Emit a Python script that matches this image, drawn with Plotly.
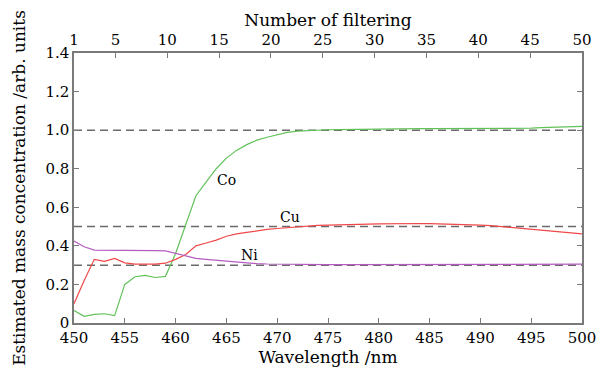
import plotly.graph_objects as go

wavelength = list(range(450, 501))

co = [0.065, 0.035, 0.045, 0.048, 0.038, 0.20, 0.24, 0.247, 0.236, 0.242,
      0.36, 0.51, 0.66, 0.73, 0.80, 0.855, 0.895, 0.925, 0.948, 0.963,
      0.977, 0.988, 0.995, 0.998, 1.0, 1.002, 1.003, 1.004, 1.005, 1.006,
      1.007, 1.007, 1.008, 1.008, 1.008, 1.008, 1.008, 1.008, 1.008, 1.008,
      1.008, 1.008, 1.008, 1.009, 1.009, 1.01, 1.013, 1.015, 1.016, 1.018, 1.02]

cu = [0.10, 0.22, 0.33, 0.32, 0.335, 0.312, 0.305, 0.305, 0.305, 0.31,
      0.33, 0.355, 0.40, 0.415, 0.43, 0.45, 0.462, 0.47, 0.478, 0.485,
      0.49, 0.495, 0.499, 0.503, 0.506, 0.508, 0.51, 0.511, 0.512, 0.513,
      0.514, 0.515, 0.516, 0.516, 0.516, 0.515, 0.514, 0.512, 0.511, 0.51,
      0.508, 0.505, 0.50, 0.495, 0.49, 0.485, 0.481, 0.477, 0.472, 0.467, 0.462]

ni = [0.425, 0.395, 0.378, 0.378, 0.377, 0.376, 0.375, 0.375, 0.375, 0.374,
      0.36, 0.345, 0.335, 0.33, 0.325, 0.32, 0.316, 0.312, 0.308, 0.306,
      0.305, 0.304, 0.304, 0.304, 0.303, 0.303, 0.303, 0.303, 0.303, 0.303,
      0.303, 0.303, 0.303, 0.303, 0.303, 0.303, 0.303, 0.303, 0.303, 0.303,
      0.303, 0.303, 0.303, 0.303, 0.303, 0.304, 0.304, 0.304, 0.305, 0.305, 0.305]

reference_levels = [1.0, 0.5, 0.3]

series_labels = ["Co", "Cu", "Ni"]
label_x = [465.0, 471.3, 467.3]
label_y = [0.74, 0.55, 0.352]

x_ticks = list(range(450, 501, 5))
y_ticks = [0, 0.2, 0.4, 0.6, 0.8, 1.0, 1.2, 1.4]
y_ticklabels = ["0", "0.2", "0.4", "0.6", "0.8", "1.0", "1.2", "1.4"]
filter_ticks = [1, 5, 10, 15, 20, 25, 30, 35, 40, 45, 50]

FONT = "DejaVu Serif"
AXC = "#7a7a7a"

fig = go.Figure()

for lvl in reference_levels:
    fig.add_trace(go.Scatter(x=[450, 500], y=[lvl, lvl], mode="lines",
                             line=dict(color="#6a6a6a", width=1.5, dash="8px,5px"),
                             hoverinfo="skip", showlegend=False))

fig.add_trace(go.Scatter(x=wavelength, y=co, mode="lines",
                         line=dict(color="#62c25a", width=1.2), showlegend=False))
fig.add_trace(go.Scatter(x=wavelength, y=cu, mode="lines",
                         line=dict(color="#f04848", width=1.2), showlegend=False))
fig.add_trace(go.Scatter(x=wavelength, y=ni, mode="lines",
                         line=dict(color="#b45cc0", width=1.2), showlegend=False))

# invisible trace for top axis
fig.add_trace(go.Scatter(x=[1, 50], y=[0, 0], xaxis="x2", mode="markers",
                         marker=dict(opacity=0), hoverinfo="skip", showlegend=False))

for t, lx, ly in zip(series_labels, label_x, label_y):
    fig.add_annotation(x=lx, y=ly, text=t, showarrow=False,
                       font=dict(family=FONT, size=14, color="black"))

fig.update_layout(
    width=602, height=365,
    margin=dict(l=66, r=28, t=45, b=50, autoexpand=False),
    plot_bgcolor="white", paper_bgcolor="white",
    font=dict(family=FONT, size=15, color="black"),
    xaxis=dict(range=[450, 500], tickvals=x_ticks, ticks="inside", ticklen=5,
               tickcolor=AXC, showline=True, linecolor=AXC, linewidth=1.5,
               automargin=False, showgrid=False, zeroline=False,
               tickfont=dict(family=FONT, size=15),
               title=dict(text="Wavelength /nm", standoff=3,
                          font=dict(family=FONT, size=17))),
    xaxis2=dict(range=[1, 50], tickvals=filter_ticks, overlaying="x", side="top",
                anchor="y", ticks="inside", ticklen=5, tickcolor=AXC,
                showline=True, linecolor=AXC, linewidth=1.5, showgrid=False,
                automargin=False, zeroline=False,
                tickfont=dict(family=FONT, size=15),
                title=dict(text="Number of filtering", standoff=0,
                           font=dict(family=FONT, size=17))),
    yaxis=dict(range=[0, 1.4], tickvals=y_ticks, ticktext=y_ticklabels,
               ticks="inside", ticklen=5, tickcolor=AXC, showline=True,
               linecolor=AXC, linewidth=1.5, mirror="ticks", showgrid=False,
               automargin=False, zeroline=False,
               tickfont=dict(family=FONT, size=15),
               title=dict(text="Estimated mass concentration /arb. units",
                          font=dict(family=FONT, size=17))),
)

fig.write_html("out.html")
